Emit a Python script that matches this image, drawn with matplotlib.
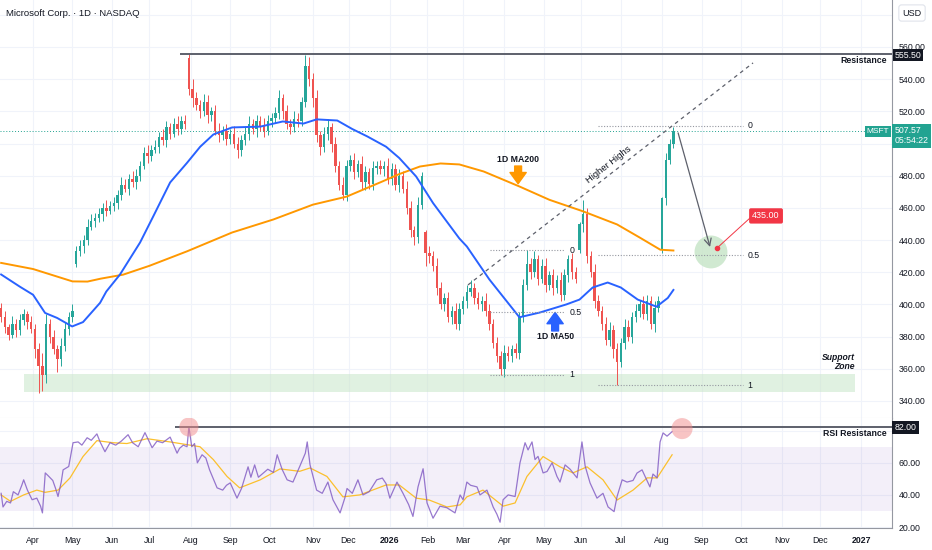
import numpy as np
import matplotlib.pyplot as plt
from matplotlib.patches import Rectangle
from matplotlib.transforms import blended_transform_factory

plt.rcParams['font.family'] = ['Liberation Sans', 'DejaVu Sans']

# ------------------------------  Данные (индекс торгового дня, 0 = 1 апреля 2025)  ------------------------------#
FIRST_BAR = -17   # индекс первой свечи
BAR_STEP = 2      # одна свеча = 2 торговых дня

closes = [392, 386, 381, 388, 384, 390, 394, 389, 385, 372,
          362, 356, 388, 380, 372, 366, 374, 385, 392, 396,
          433, 436, 440, 448, 452, 454, 456, 460, 458, 461,
          463, 468, 474, 472, 478, 476, 480, 486, 494, 492,
          496, 498, 504, 502, 510, 506, 512, 509, 514, 512,
          534, 528, 524, 520, 526, 518, 520, 508, 505, 508,
          503, 506, 500, 496, 502, 506, 512, 509, 514, 511,
          508, 514, 516, 519, 528, 520, 512, 510, 515, 514,
          526, 548, 540, 528, 505, 498, 506, 510, 500, 486,
          474, 468, 486, 490, 482, 487, 476, 482, 475, 485,
          486, 484, 486, 478, 484, 474, 480, 472, 460, 446,
          442, 462, 480, 432, 430, 424, 410, 400, 404, 392,
          396, 388, 397, 402, 408, 410, 404, 400, 402, 396,
          388, 376, 368, 360, 370, 368, 372, 370, 392, 412,
          425, 420, 428, 416, 424, 412, 418, 410, 415, 406,
          418, 428, 420, 416, 450, 456, 430, 420, 402, 396,
          388, 378, 384, 372, 364, 376, 386, 380, 392, 396,
          400, 394, 402, 388, 398, 402, 466, 490, 500, 507.57]

up_wick = [3, 4, 2, 5, 3, 4, 3, 2, 4, 3,
           4, 8, 6, 3, 4, 3, 5, 4, 3, 4,
           3, 4, 3, 5, 4, 3, 4, 3, 5, 3,
           4, 3, 5, 4, 3, 5, 4, 3, 4, 5,
           3, 4, 3, 5, 4, 3, 4, 5, 3, 4,
           3, 6, 4, 3, 5, 4, 3, 4, 5, 3,
           4, 3, 5, 4, 3, 4, 5, 3, 4, 3,
           5, 4, 3, 4, 5, 3, 4, 3, 5, 4,
           3, 7, 6, 4, 5, 3, 4, 5, 3, 4,
           3, 5, 4, 3, 4, 3, 5, 4, 3, 4,
           3, 4, 3, 5, 4, 3, 4, 3, 5, 4,
           3, 5, 2, 1, 4, 3, 5, 4, 3, 4,
           3, 5, 4, 3, 4, 5, 3, 4, 3, 5,
           4, 3, 4, 3, 5, 4, 3, 4, 3, 4,
           9, 4, 5, 3, 4, 5, 3, 4, 3, 5,
           4, 3, 4, 3, 1, 9, 4, 3, 5, 4,
           3, 4, 5, 3, 4, 3, 5, 4, 3, 4,
           3, 5, 4, 3, 4, 3, 1, 4, 3, 3]

dn_wick = [3, 4, 3, 2, 4, 3, 3, 4, 3, 5,
           17, 10, 5, 4, 3, 8, 4, 3, 4, 3,
           2, 3, 4, 3, 2, 4, 3, 4, 3, 2,
           3, 4, 3, 2, 4, 3, 4, 3, 2, 4,
           3, 2, 4, 3, 4, 3, 2, 4, 3, 3,
           4, 5, 3, 4, 3, 5, 4, 3, 4, 3,
           4, 3, 3, 5, 4, 3, 4, 3, 5, 3,
           4, 3, 4, 3, 4, 5, 3, 4, 3, 4,
           3, 3, 4, 5, 4, 5, 3, 4, 5, 4,
           3, 3, 4, 3, 4, 3, 4, 5, 3, 4,
           4, 3, 4, 3, 4, 3, 4, 3, 4, 4,
           5, 4, 3, 8, 4, 3, 4, 3, 4, 3,
           4, 3, 4, 3, 4, 3, 4, 3, 4, 3,
           4, 3, 4, 4, 5, 3, 4, 3, 4, 3,
           3, 4, 3, 4, 3, 4, 3, 4, 3, 4,
           3, 4, 4, 3, 2, 5, 4, 3, 4, 3,
           4, 3, 4, 5, 14, 3, 4, 3, 4, 3,
           4, 3, 4, 3, 5, 3, 2, 4, 3, 3]

FIRST_OPEN = 398
gap_opens = {20: 425, 50: 553, 113: 445, 154: 434, 176: 434}  # гэпы на отчётах

ma50_days = [-17, -7, 0, 6.4, 12.8, 20.8, 26.6, 35.7, 39, 46.3, 57, 64, 73, 82, 89, 96, 106, 121,
             133, 144, 151, 162, 170, 178, 188, 195, 204, 213, 220, 227, 231, 243, 259, 270, 284,
             291, 298, 306, 313, 322, 332, 338, 341]
ma50_vals = [418.6, 411, 406, 394.7, 391.6, 386.3, 389, 401, 408, 418.6, 438.5, 454.7, 475.8, 488,
             498, 505.6, 510, 510.5, 513.7, 512.4, 515, 514.3, 509, 504.4, 498, 491, 479.5, 463,
             452, 441, 436, 415.5, 392, 395, 400, 403, 410.5, 413.6, 410.5, 403, 398.6, 404, 409]

ma200_days = [-17, 0, 21, 29, 36, 48, 62, 82, 106, 128, 149, 167, 186, 195, 206, 217, 227, 240,
              259, 275, 293, 311, 323, 334, 341]
ma200_vals = [425.8, 422, 414.3, 414.2, 416, 418.5, 424, 433, 444.7, 452.8, 462, 467, 476.4, 481,
              485.7, 487.6, 487, 482.6, 473.3, 465, 457.8, 449.7, 441.6, 434, 433.5]

rsi_days = [-17, -16, -14, -12, -10.5, -8, -6, -5, -3, -0.5, 2, 4, 5, 6.5, 8, 10.5, 12, 13.3, 15, 16,
            19, 21.3, 24, 26, 28.8, 31, 34, 35.7, 38.3, 41, 44, 47, 50.6, 53, 56, 59.6, 63.4, 66,
            69, 73, 76.7, 78, 80, 82, 83, 84.5, 86, 87.5, 90, 92, 94, 98, 101, 103, 105, 108.6,
            111, 114.5, 116, 118, 120, 123, 125, 128, 130, 132.6, 135.3, 138.4, 142, 145, 146,
            147.5, 151, 154, 157, 159.7, 163.5, 166, 167.2, 170, 173, 175.7, 179, 183, 186, 188,
            190, 193.8, 197, 200, 202.3, 205, 207.7, 209.8, 213, 216.7, 220.4, 224.7, 227.4, 229,
            231, 233, 236.4, 238, 241.7, 245, 247, 248.7, 250.3, 253, 256.7, 259.3, 262, 263.6,
            265.7, 267.3, 268.9, 271.6, 273.7, 276.4, 279, 280.6, 283.3, 286, 289.7, 292.3, 294,
            296.6, 300.3, 303.5, 306.2, 309.4, 311, 313.7, 316.3, 319.5, 321.6, 324.3, 325.9,
            328.5, 330.1, 332.3, 333.9, 335.5, 337.6, 340.3]
rsi_vals = [41, 32.5, 36, 35, 42, 40, 46, 49.4, 43, 37, 38, 33, 28.8, 53.7, 52, 49, 44, 39, 48, 55.6,
            57.7, 72.5, 73, 71, 75.6, 74, 78, 73, 66.9, 72.5, 71, 73.5, 77.5, 72.5, 70, 78.8, 69.4,
            73.5, 72.5, 76, 66, 69, 71, 70, 82.5, 70, 72, 60, 65, 63, 55.6, 44.4, 43, 46, 47.5, 38,
            44, 57.5, 51, 58.7, 51, 54, 56, 54, 65, 56, 49.4, 48, 57.7, 66, 73, 58.7, 43, 41, 48,
            37, 28.8, 38, 44, 41, 49.4, 40, 42, 49.4, 50.5, 47, 38, 48, 41, 34, 26.6, 45, 56.3,
            35, 25.5, 33, 32, 28.8, 40, 37, 48, 46, 45, 40, 43, 32.5, 28, 23, 37, 40, 39, 60,
            72.5, 68, 73, 62, 64, 53.7, 54.6, 60, 51.5, 48, 58.7, 56, 50.6, 73, 58, 47.5, 38, 41,
            32.5, 29.6, 39, 49.4, 48, 49, 53.6, 55.6, 51.5, 45, 53, 50.6, 73, 78.6, 76.6, 79.4]

rsi_ma_days = [-17, -12, -5, 2, 6.4, 13.3, 19.7, 26.6, 34, 42.6, 50, 60.7, 73, 82, 88.9, 96, 103.3,
               110, 121, 131.5, 142, 147.5, 156.5, 165, 174, 188, 195, 204, 211, 220.4, 227.4, 231,
               239.6, 250.3, 256.7, 263, 271.6, 280.6, 287.5, 295, 303.5, 311, 319.5, 327, 332.3,
               340.3]
rsi_ma_vals = [40, 36, 40, 43, 41.6, 43, 50.6, 63.9, 73.8, 72.5, 72, 75, 73, 71.3, 70, 62, 51.5,
               44.4, 49.4, 56.2, 54.7, 56.8, 51.5, 38.8, 40, 46.2, 46.2, 38, 36.8, 32.5, 33.8, 38.8,
               43, 33, 35, 51.5, 63.9, 57.5, 53.7, 57.5, 49.4, 36.8, 43, 50.6, 50.6, 65]

month_days = [0, 21, 42, 62, 84, 105, 126, 149, 168, 190, 210, 229, 251, 272, 292, 313, 335,
              356, 377, 399, 419, 441]
month_labels = ['Apr', 'May', 'Jun', 'Jul', 'Aug', 'Sep', 'Oct', 'Nov', 'Dec', '2026', 'Feb',
                'Mar', 'Apr', 'May', 'Jun', 'Jul', 'Aug', 'Sep', 'Oct', 'Nov', 'Dec', '2027']

RESISTANCE = 555.50
LAST_PRICE = 507.57
TARGET = 435.00
RSI_RES = 82.00
fib1 = [433.7, 395.0, 356.3]   # уровни 0 / 0.5 / 1
fib2 = [511.0, 430.4, 349.7]

# ------------------------------  Цвета  ------------------------------#
UP, DOWN = '#26a69a', '#ef5350'
GRID = '#f0f3fa'
TXT = '#131722'
TEAL = '#22a391'

# ------------------------------  Оси  ------------------------------#
fig = plt.figure(figsize=(9.32, 5.5), dpi=100)
ax = fig.add_axes([0, 132 / 550, 892 / 932, 418 / 550])
ax_rsi = fig.add_axes([0, 22 / 550, 892 / 932, 110 / 550], sharex=ax)

ax.set_xlim(-17.6, 457.4)
ax.set_ylim(329.4, 589.2)
ax_rsi.set_ylim(19.4, 87.9)

for a in (ax, ax_rsi):
    a.set_facecolor('white')
    a.grid(True, color=GRID, lw=0.8, zorder=0)
    a.set_axisbelow(True)
    a.yaxis.tick_right()
    a.tick_params(length=0, labelsize=6.3, colors=TXT, pad=5)
    for s in ('left', 'top'):
        a.spines[s].set_visible(False)
    a.spines['right'].set_color('#9598a1')
    a.spines['right'].set_linewidth(0.8)
ax.spines['bottom'].set_color('#e0e3eb')
ax_rsi.spines['bottom'].set_color('#9598a1')
ax_rsi.spines['bottom'].set_linewidth(0.8)

price_ticks = np.arange(340, 581, 20)
ax.set_yticks(price_ticks)
ax.set_yticklabels(['' if t in (500, 580) else f'{t:.2f}' for t in price_ticks])
ax_rsi.set_yticks([20, 40, 60, 80])
ax_rsi.set_yticklabels(['20.00', '40.00', '60.00', ''])

ax.set_xticks(month_days)
ax.tick_params(labelbottom=False)
ax_rsi.set_xticks(month_days)
ax_rsi.set_xticklabels(month_labels)
ax_rsi.tick_params(axis='x', pad=6)
for lab in ax_rsi.get_xticklabels():
    if lab.get_text() in ('2026', '2027'):
        lab.set_fontweight('bold')

# ------------------------------  Свечи  ------------------------------#
opens = [FIRST_OPEN] + closes[:-1]
for k, o in gap_opens.items():
    opens[k] = o
xs = FIRST_BAR + BAR_STEP * np.arange(len(closes))
for x, o, c, u, d in zip(xs, opens, closes, up_wick, dn_wick):
    col = UP if c >= o else DOWN
    ax.vlines(x, min(o, c) - d, max(o, c) + u, color=col, lw=0.7, zorder=3)
    ax.add_patch(Rectangle((x - 0.65, min(o, c)), 1.3, max(abs(c - o), 0.4),
                           facecolor=col, edgecolor='none', zorder=3))

# скользящие средние
ax.plot(ma200_days, ma200_vals, color='#ff9800', lw=1.4, zorder=4)
ax.plot(ma50_days, ma50_vals, color='#2962ff', lw=1.4, zorder=4)

# ------------------------------  Разметка основного графика  ------------------------------#
tr = blended_transform_factory(ax.transAxes, ax.transData)

# зона поддержки
ax.add_patch(Rectangle((-4.8, 345.3), 442.5, 11.2, facecolor='#c8e6c9', alpha=0.55,
                       edgecolor='none', zorder=1))
ax.text(437.5, 364, 'Support\nZone', ha='right', va='center', fontsize=6.2,
        fontweight='bold', style='italic', color=TXT, linespacing=1.0)

# сопротивление
ax.hlines(RESISTANCE, 78.3, 457.4, color='#5d606b', lw=1.4, zorder=5)
ax.text(0.994, 551.5, 'Resistance', transform=tr, ha='right', va='center', fontsize=6.3,
        fontweight='bold', color=TXT)
ax.text(1.003, RESISTANCE - 0.6, f'{RESISTANCE:.2f}', transform=tr, ha='left', va='center',
        fontsize=6.3, color='white', zorder=10,
        bbox=dict(boxstyle='square,pad=0.18', fc=TXT, ec='none'))

# текущая цена
ax.axhline(LAST_PRICE, color=TEAL, lw=0.7, ls=(0, (1, 2)), zorder=2)
ax.text(0.997, LAST_PRICE, 'MSFT', transform=tr, ha='right', va='center', fontsize=6,
        color='white', bbox=dict(boxstyle='square,pad=0.25', fc=TEAL, ec='none'))
ax.text(1.003, LAST_PRICE - 2.8, f'{LAST_PRICE:.2f}\n05:54:22', transform=tr, ha='left',
        va='center', fontsize=6.3, color='white', linespacing=1.15,
        bbox=dict(boxstyle='square,pad=0.3', fc=TEAL, ec='none'))

# уровни Фибоначчи
for levels, x0, x1, xl in ((fib1, 243.3, 283.3, 285.5), (fib2, 300.9, 378.0, 380.5)):
    for lev, name in zip(levels, ['0', '0.5', '1']):
        ax.hlines(lev, x0, x1, color='#9598a1', lw=0.8, ls=(0, (1, 1.5)), zorder=5)
        ax.text(xl, lev, name, ha='left', va='center', fontsize=6.3, color=TXT)

# линия Higher Highs
ax.plot([231.6, 383.4], [412.1, 550.1], color='#5d606b', lw=0.9, ls=(0, (3, 3)), zorder=5)
ax.text(306.5, 487.0, 'Higher Highs', rotation=38, ha='center', va='center', fontsize=6.8,
        color=TXT, rotation_mode='anchor')

# подписи скользящих
ax.text(258.3, 490.0, '1D MA200', ha='center', va='center', fontsize=6.3, fontweight='bold',
        color=TXT)
ax.annotate('', xy=(258.3, 475.0), xytext=(258.3, 486.0),
            arrowprops=dict(arrowstyle='simple,head_width=1.3,head_length=0.9,tail_width=0.55',
                            color='#ff9800', mutation_scale=9, shrinkA=0, shrinkB=0))
ax.text(278.0, 380.3, '1D MA50', ha='center', va='center', fontsize=6.3, fontweight='bold',
        color=TXT)
ax.annotate('', xy=(278.0, 395.0), xytext=(278.0, 383.5),
            arrowprops=dict(arrowstyle='simple,head_width=1.3,head_length=0.9,tail_width=0.55',
                            color='#2962ff', mutation_scale=9, shrinkA=0, shrinkB=0))

# прогноз: стрелка к цели
ax.scatter([361.0], [432.6], s=560, color='#c8e6c9', alpha=0.85, edgecolors='none', zorder=4)
ax.annotate('', xy=(360.5, 435.7), xytext=(343.5, 506.6),
            arrowprops=dict(arrowstyle='->,head_width=0.25,head_length=0.5', color='#5d606b',
                            lw=0.9, shrinkA=0, shrinkB=0), zorder=6)
ax.plot([364.2, 383.0], [TARGET, 455.0], color='#f23645', lw=0.7, zorder=6)
ax.scatter([364.2], [TARGET], s=9, color='#f23645', zorder=7)
ax.text(383.0, 455.0, f'{TARGET:.2f}', ha='left', va='center', fontsize=6.5, color='white',
        zorder=7, bbox=dict(boxstyle='round,pad=0.35,rounding_size=0.2', fc='#f23645', ec='none'))

# ------------------------------  RSI  ------------------------------#
trr = blended_transform_factory(ax_rsi.transAxes, ax_rsi.transData)
ax_rsi.axhspan(30, 70, color='#7e57c2', alpha=0.09, lw=0, zorder=1)
ax_rsi.plot(rsi_ma_days, rsi_ma_vals, color='#fbc02d', lw=0.9, zorder=3)
ax_rsi.plot(rsi_days, rsi_vals, color='#7e57c2', lw=0.9, alpha=0.8, zorder=4)
ax_rsi.hlines(RSI_RES, 75.6, 457.4, color='#5d606b', lw=1.4, zorder=5)
ax_rsi.scatter([83.0, 345.6], [82.3, 81.3], s=[190, 230], color='#f28b8b', alpha=0.5,
               edgecolors='none', zorder=6)
ax_rsi.text(0.994, 78.0, 'RSI Resistance', transform=trr, ha='right', va='center', fontsize=6.3,
            fontweight='bold', color=TXT)
ax_rsi.text(1.003, RSI_RES, f'{RSI_RES:.2f}', transform=trr, ha='left', va='center',
            fontsize=6.3, color='white', bbox=dict(boxstyle='square,pad=0.25', fc=TXT, ec='none'))

# ------------------------------  Заголовок  ------------------------------#
fig.text(6 / 932, 1 - 13 / 550, 'Microsoft Corp. · 1D · NASDAQ', fontsize=6.8, color=TXT,
         va='center', ha='left')
fig.text(912 / 932, 1 - 13 / 550, 'USD', fontsize=6.5, color=TXT, va='center', ha='center',
         bbox=dict(boxstyle='round,pad=0.4,rounding_size=0.3', fc='white', ec='#e0e3eb', lw=0.8))

fig.savefig('out.png', dpi=100)
